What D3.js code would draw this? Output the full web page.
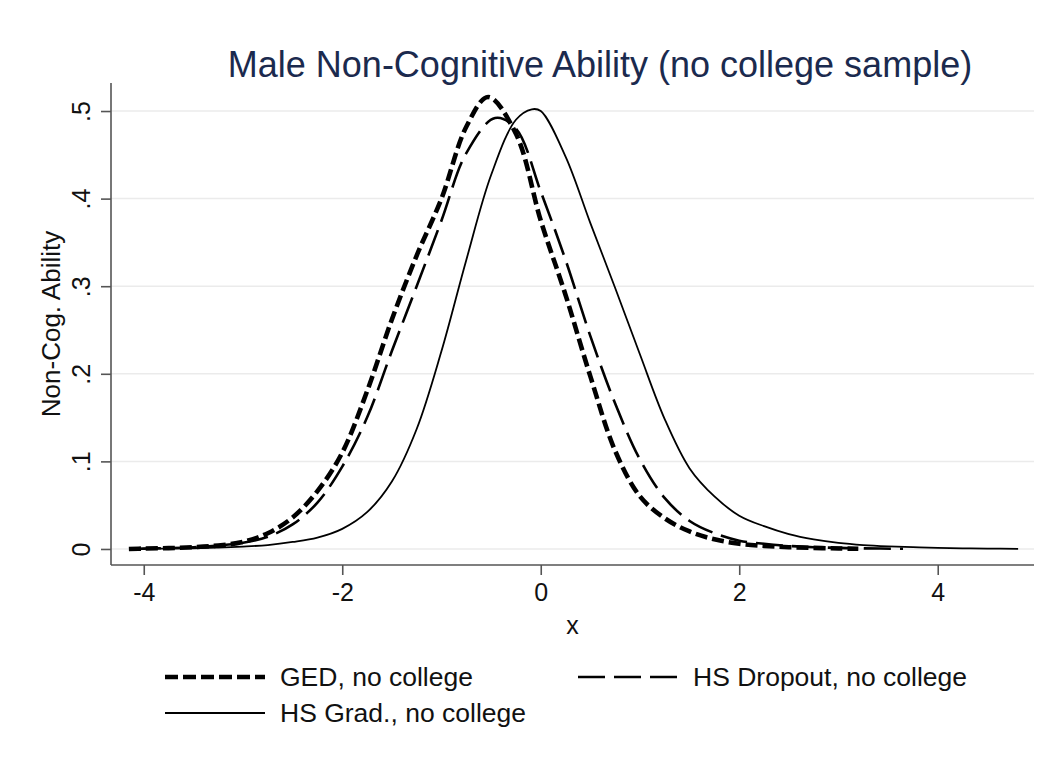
<!DOCTYPE html>
<html>
<head>
<meta charset="utf-8">
<script src="https://cdn.jsdelivr.net/npm/d3@7"></script>
<style>
  html, body { margin: 0; padding: 0; background: #ffffff; }
  svg { display: block; font-family: "Liberation Sans", Arial, Helvetica, sans-serif; }
</style>
</head>
<body>
<svg id="chart" width="1045" height="770"></svg>
<script>
// ---- data ----
const gedX = [-4.15, -4.0, -3.75, -3.5, -3.25, -3.0, -2.75, -2.5, -2.25, -2.0, -1.75, -1.5, -1.25, -1.0, -0.75, -0.53, -0.25, 0.0, 0.25, 0.5, 0.75, 1.0, 1.25, 1.5, 1.75, 2.0, 2.25, 2.5, 2.75, 3.0, 3.2];
const gedY = [0.000, 0.0005, 0.001, 0.002, 0.004, 0.008, 0.018, 0.036, 0.066, 0.110, 0.180, 0.262, 0.335, 0.400, 0.482, 0.516, 0.474, 0.375, 0.290, 0.197, 0.112, 0.060, 0.035, 0.020, 0.011, 0.006, 0.0035, 0.002, 0.0012, 0.0006, 0.0002];

const dropX = [-4.1, -4.0, -3.75, -3.5, -3.25, -3.0, -2.75, -2.5, -2.25, -2.0, -1.75, -1.5, -1.25, -1.0, -0.75, -0.46, -0.25, 0.0, 0.25, 0.5, 0.75, 1.0, 1.25, 1.5, 1.75, 2.0, 2.25, 2.5, 2.75, 3.0, 3.25, 3.65];
const dropY = [0.000, 0.0004, 0.001, 0.002, 0.004, 0.007, 0.014, 0.028, 0.053, 0.094, 0.150, 0.226, 0.300, 0.375, 0.452, 0.492, 0.480, 0.408, 0.330, 0.243, 0.166, 0.102, 0.058, 0.032, 0.018, 0.0095, 0.006, 0.0035, 0.002, 0.0012, 0.0007, 0.0002];

const gradX = [-4.1, -3.75, -3.5, -3.25, -3.0, -2.75, -2.5, -2.25, -2.0, -1.75, -1.5, -1.25, -1.0, -0.75, -0.5, -0.25, -0.09, 0.0, 0.25, 0.5, 0.75, 1.0, 1.25, 1.5, 1.75, 2.0, 2.25, 2.5, 2.75, 3.0, 3.25, 3.5, 3.75, 4.0, 4.25, 4.5, 4.81];
const gradY = [0.0003, 0.0005, 0.0008, 0.0015, 0.0027, 0.0045, 0.008, 0.013, 0.023, 0.042, 0.077, 0.137, 0.226, 0.330, 0.427, 0.490, 0.502, 0.500, 0.448, 0.372, 0.298, 0.222, 0.148, 0.092, 0.060, 0.038, 0.026, 0.017, 0.011, 0.007, 0.0045, 0.003, 0.002, 0.0012, 0.0007, 0.0004, 0.0002];

const seriesNames = ["GED, no college", "HS Dropout, no college", "HS Grad., no college"];
const xTicks = [-4, -2, 0, 2, 4];
const xTickLabels = ["-4", "-2", "0", "2", "4"];
const yTicks = [0, 0.1, 0.2, 0.3, 0.4, 0.5];
const yTickLabels = ["0", ".1", ".2", ".3", ".4", ".5"];
const titleText = "Male Non-Cognitive Ability (no college sample)";
const xTitle = "x";
const yTitle = "Non-Cog. Ability";

// ---- layout ----
const svg = d3.select("#chart");
const plotL = 111, plotR = 1034, plotT = 83, plotB = 565;

const x = d3.scaleLinear().domain([-4.33, 4.97]).range([plotL, plotR]);
const y = d3.scaleLinear().domain([-0.0183, 0.532]).range([plotB, plotT]);

// gridlines
svg.append("g").selectAll("line").data(yTicks).join("line")
  .attr("x1", plotL).attr("x2", plotR)
  .attr("y1", d => y(d)).attr("y2", d => y(d))
  .attr("stroke", "#ebebeb").attr("stroke-width", 1.5);

// curves
const styles = [
  { xs: gedX, ys: gedY, width: 4.6, dash: "12,5" },
  { xs: dropX, ys: dropY, width: 2.6, dash: "27,9" },
  { xs: gradX, ys: gradY, width: 1.8, dash: null }
];
const line = d3.line().x(d => x(d[0])).y(d => y(d[1])).curve(d3.curveCatmullRom.alpha(0.5));
styles.forEach(s => {
  const pts = s.xs.map((v, i) => [v, s.ys[i]]);
  svg.append("path").datum(pts)
    .attr("d", line)
    .attr("fill", "none")
    .attr("stroke", "#000")
    .attr("stroke-width", s.width)
    .attr("stroke-dasharray", s.dash)
    .attr("stroke-linejoin", "round");
});

// axes
const axisColor = "#555";
const tickFont = "25px";
const yAxis = svg.append("g").attr("transform", `translate(${plotL},0)`)
  .call(d3.axisLeft(y).tickValues(yTicks).tickFormat((d, i) => yTickLabels[i]).tickSize(10).tickSizeOuter(0));
yAxis.select(".domain").remove();
yAxis.append("line").attr("x1", 0).attr("x2", 0).attr("y1", plotT).attr("y2", plotB)
  .attr("stroke", axisColor).attr("stroke-width", 1.6);
yAxis.selectAll(".tick line").attr("stroke", axisColor).attr("stroke-width", 1.6);
yAxis.selectAll(".tick text")
  .attr("transform", "rotate(-90)")
  .attr("x", 0).attr("y", -21).attr("dy", 0)
  .attr("text-anchor", "middle")
  .attr("fill", "#111")
  .style("font-size", tickFont)
  .style("font-family", "Liberation Sans, Arial, sans-serif");

const xAxis = svg.append("g").attr("transform", `translate(0,${plotB})`)
  .call(d3.axisBottom(x).tickValues(xTicks).tickFormat((d, i) => xTickLabels[i]).tickSize(10).tickSizeOuter(0));
xAxis.select(".domain").remove();
xAxis.append("line").attr("x1", plotL).attr("x2", plotR).attr("y1", 0).attr("y2", 0)
  .attr("stroke", axisColor).attr("stroke-width", 1.6);
xAxis.selectAll(".tick line").attr("stroke", axisColor).attr("stroke-width", 1.6);
xAxis.selectAll(".tick text")
  .attr("y", 36).attr("dy", 0)
  .attr("fill", "#111")
  .style("font-size", tickFont)
  .style("font-family", "Liberation Sans, Arial, sans-serif");

// titles
svg.append("text").attr("x", 600).attr("y", 77).attr("text-anchor", "middle")
  .attr("fill", "#1b2a4e").style("font-size", "36px").text(titleText);
svg.append("text").attr("x", (plotL + plotR) / 2).attr("y", 634).attr("text-anchor", "middle")
  .attr("fill", "#111").style("font-size", "25px").text(xTitle);
svg.append("text").attr("transform", `translate(60,${(plotT + plotB) / 2}) rotate(-90)`)
  .attr("text-anchor", "middle").attr("fill", "#111").style("font-size", "26px").text(yTitle);

// legend
const legendItems = [
  { name: seriesNames[0], s: styles[0], lx: 165, ly: 677, dash: "13,5" },
  { name: seriesNames[1], s: styles[1], lx: 578, ly: 677, dash: "27,9" },
  { name: seriesNames[2], s: styles[2], lx: 165, ly: 713, dash: null }
];
const lg = svg.append("g");
legendItems.forEach(it => {
  lg.append("line").attr("x1", it.lx).attr("x2", it.lx + 100)
    .attr("y1", it.ly).attr("y2", it.ly)
    .attr("stroke", "#000").attr("stroke-width", it.s.width)
    .attr("stroke-dasharray", it.dash);
  lg.append("text").attr("x", it.lx + 115).attr("y", it.ly + 9)
    .attr("fill", "#111").style("font-size", "26.5px").text(it.name);
});
</script>
</body>
</html>
